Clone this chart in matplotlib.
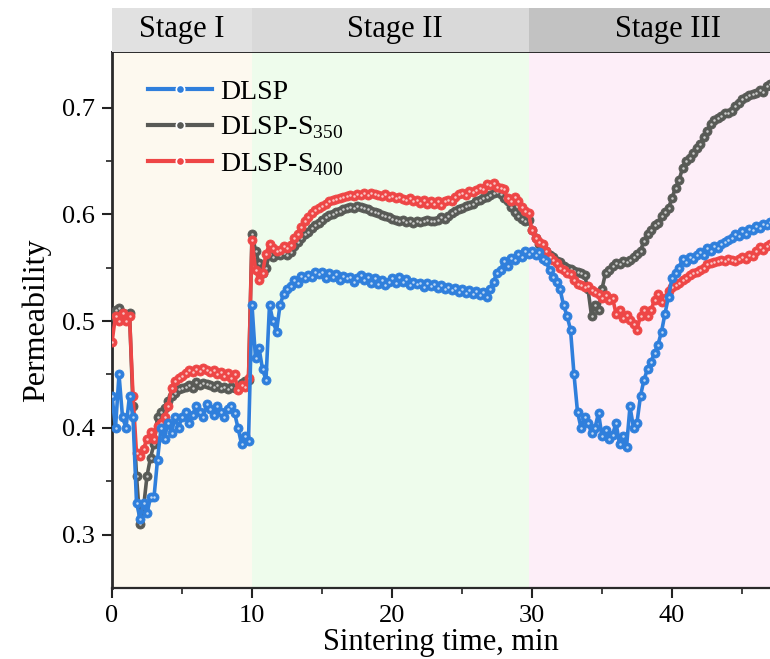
import numpy as np
import matplotlib
matplotlib.use("Agg")
import matplotlib.pyplot as plt
from matplotlib.lines import Line2D

plt.rcParams['font.family'] = ['Liberation Serif', 'DejaVu Serif']
plt.rcParams['mathtext.fontset'] = 'custom'
plt.rcParams['mathtext.rm'] = 'Liberation Serif'

# sampling grid (min)
time_min = np.round(np.arange(0, 47.001, 0.25), 2)

dlsp = [
    0.43, 0.40, 0.45, 0.41,
    0.40, 0.43, 0.41, 0.33,
    0.315, 0.33, 0.32, 0.335,
    0.335, 0.37, 0.40, 0.39,
    0.405, 0.395, 0.41, 0.40,
    0.41, 0.415, 0.405, 0.412,
    0.42, 0.415, 0.41, 0.422,
    0.418, 0.412, 0.42, 0.415,
    0.41, 0.418, 0.42, 0.414,
    0.40, 0.385, 0.392, 0.388,
    0.515, 0.465, 0.475, 0.455,
    0.445, 0.515, 0.50, 0.49,
    0.515, 0.525, 0.53, 0.533,
    0.538, 0.536, 0.542, 0.54,
    0.543, 0.541, 0.546, 0.544,
    0.546, 0.54, 0.545, 0.541,
    0.544, 0.538, 0.542, 0.54,
    0.541, 0.537, 0.54, 0.543,
    0.538, 0.541, 0.536, 0.54,
    0.535, 0.538, 0.534, 0.537,
    0.54, 0.536, 0.541, 0.537,
    0.539, 0.534, 0.537, 0.535,
    0.536, 0.532, 0.536, 0.533,
    0.535, 0.531, 0.534, 0.53,
    0.532, 0.529, 0.531, 0.527,
    0.53, 0.526, 0.529, 0.525,
    0.528, 0.524, 0.527, 0.523,
    0.53, 0.537, 0.545, 0.548,
    0.556, 0.552, 0.559, 0.557,
    0.563, 0.56, 0.566, 0.563,
    0.566, 0.562, 0.565, 0.558,
    0.556, 0.548, 0.541, 0.537,
    0.53, 0.515, 0.505, 0.492,
    0.45, 0.415, 0.40, 0.41,
    0.405, 0.395, 0.40, 0.414,
    0.392, 0.398, 0.39, 0.393,
    0.405, 0.385, 0.392, 0.382,
    0.42, 0.40, 0.405, 0.43,
    0.445, 0.455, 0.462, 0.47,
    0.478, 0.49, 0.507, 0.523,
    0.54, 0.545, 0.55, 0.558,
    0.555, 0.56, 0.558, 0.562,
    0.565, 0.562, 0.568, 0.566,
    0.57, 0.568, 0.572, 0.574,
    0.576, 0.578, 0.582, 0.58,
    0.584, 0.582, 0.586, 0.585,
    0.589, 0.587, 0.591, 0.59,
    0.593,
]

dlsp_s350 = [
    0.505, 0.51, 0.512, 0.508,
    0.505, 0.508, 0.42, 0.355,
    0.31, 0.325, 0.355, 0.372,
    0.385, 0.41, 0.415, 0.419,
    0.425, 0.43, 0.433, 0.436,
    0.437, 0.438, 0.44, 0.437,
    0.443, 0.44, 0.442, 0.441,
    0.44, 0.438, 0.44, 0.437,
    0.438, 0.436, 0.438, 0.437,
    0.438, 0.442, 0.444, 0.445,
    0.582, 0.566, 0.554, 0.545,
    0.55, 0.563, 0.56, 0.563,
    0.562, 0.564, 0.562, 0.565,
    0.57, 0.574, 0.578, 0.582,
    0.583, 0.587, 0.59, 0.592,
    0.595, 0.597, 0.599, 0.6,
    0.602, 0.603, 0.605, 0.606,
    0.607, 0.606, 0.608, 0.607,
    0.606, 0.605, 0.603, 0.602,
    0.601, 0.599, 0.598, 0.597,
    0.596, 0.595, 0.594, 0.595,
    0.593, 0.594, 0.592, 0.594,
    0.593, 0.594, 0.595, 0.594,
    0.594, 0.595, 0.597, 0.596,
    0.598, 0.601, 0.603, 0.605,
    0.606, 0.608, 0.609, 0.61,
    0.612, 0.613, 0.615, 0.616,
    0.618, 0.62, 0.621, 0.619,
    0.615, 0.612, 0.607, 0.602,
    0.598, 0.596, 0.594, 0.595,
    0.585, 0.578, 0.572, 0.568,
    0.566, 0.562, 0.56, 0.556,
    0.555, 0.552, 0.55, 0.549,
    0.547, 0.546, 0.545, 0.543,
    0.53, 0.505, 0.515, 0.51,
    0.53, 0.545, 0.548, 0.552,
    0.554, 0.553, 0.556, 0.555,
    0.557, 0.56, 0.563, 0.566,
    0.575, 0.582, 0.585, 0.59,
    0.592, 0.598, 0.602, 0.606,
    0.615, 0.625, 0.632, 0.643,
    0.65, 0.653, 0.657, 0.662,
    0.666, 0.672, 0.678, 0.685,
    0.688, 0.69, 0.692, 0.695,
    0.695, 0.697, 0.701, 0.704,
    0.708, 0.71, 0.712, 0.713,
    0.714, 0.716, 0.715, 0.72,
    0.722,
]

dlsp_s400 = [
    0.48, 0.505, 0.50, 0.508,
    0.50, 0.505, 0.43, 0.376,
    0.374, 0.38, 0.39, 0.396,
    0.39, 0.402, 0.405, 0.41,
    0.42, 0.437, 0.444, 0.447,
    0.449, 0.451, 0.454, 0.452,
    0.455, 0.453, 0.456, 0.454,
    0.452, 0.454, 0.45, 0.452,
    0.449, 0.451, 0.447, 0.45,
    0.435, 0.44, 0.438, 0.447,
    0.576, 0.548, 0.538, 0.545,
    0.563, 0.572, 0.568, 0.566,
    0.567, 0.57, 0.568, 0.571,
    0.578, 0.582, 0.588, 0.594,
    0.597, 0.601, 0.604, 0.606,
    0.608, 0.61, 0.612, 0.613,
    0.614, 0.615, 0.616, 0.617,
    0.618, 0.617, 0.619, 0.618,
    0.62, 0.618, 0.62, 0.619,
    0.618, 0.617, 0.619, 0.616,
    0.617, 0.615, 0.616, 0.614,
    0.613, 0.615, 0.612, 0.613,
    0.611, 0.613, 0.61, 0.612,
    0.61, 0.612, 0.609, 0.612,
    0.613, 0.612, 0.616, 0.619,
    0.62, 0.618, 0.622, 0.621,
    0.623, 0.625, 0.624, 0.628,
    0.627, 0.629, 0.626, 0.625,
    0.624, 0.615, 0.612, 0.616,
    0.612, 0.607, 0.603, 0.601,
    0.585, 0.578, 0.574, 0.572,
    0.566, 0.56, 0.557, 0.554,
    0.55, 0.548, 0.545, 0.544,
    0.538, 0.535, 0.534, 0.532,
    0.533, 0.529, 0.527, 0.525,
    0.522, 0.524, 0.52, 0.522,
    0.507, 0.51, 0.503, 0.506,
    0.501, 0.497, 0.492, 0.505,
    0.51, 0.505, 0.51, 0.52,
    0.525, 0.518, 0.522, 0.528,
    0.532, 0.534, 0.536, 0.538,
    0.54, 0.543, 0.545, 0.546,
    0.548, 0.55, 0.553, 0.554,
    0.555, 0.556, 0.557, 0.556,
    0.558, 0.557, 0.556, 0.558,
    0.56, 0.558, 0.562, 0.561,
    0.566, 0.569, 0.567, 0.57,
    0.572,
]

stage_labels = ["Stage I", "Stage II", "Stage III"]
stage_bounds = [0, 10, 29.8, 47]
stage_text_x = [5, 20.2, 39.7]
stage_bg = ["#fdf9ef", "#eefcec", "#fdeef8"]
stage_head = ["#e1e1e1", "#d9d9d9", "#c2c2c2"]

series = [
    ("DLSP-S$_\\mathrm{350}$", dlsp_s350, "#585a56"),
    ("DLSP-S$_\\mathrm{400}$", dlsp_s400, "#ee4646"),
    ("DLSP", dlsp, "#2f7fdc"),
]

W, H = 770, 659
fig = plt.figure(figsize=(W / 100, H / 100), dpi=100)
ax = fig.add_axes([112 / W, 1 - 588 / H, 1 - 112 / W, (588 - 52) / H])
hax = fig.add_axes([112 / W, 1 - 52 / H, 1 - 112 / W, 44 / H], sharex=ax)

for i in range(3):
    ax.axvspan(stage_bounds[i], stage_bounds[i + 1], color=stage_bg[i], lw=0, zorder=0)
    hax.axvspan(stage_bounds[i], stage_bounds[i + 1], color=stage_head[i], lw=0)
    hax.text(stage_text_x[i], 0.5, stage_labels[i], ha="center", va="center",
             fontsize=22, transform=hax.get_xaxis_transform())

for label, vals, col in series:
    ax.plot(time_min, vals, color=col, lw=2.6, marker="o", ms=6.5,
            mfc=col, mec=col, mew=0.6, zorder=3)
    ax.plot(time_min, vals, ls="none", marker="o", ms=1.8, mfc="white",
            mec="none", alpha=0.7, zorder=3)

handles = []
for label, vals, col in [series[2], series[0], series[1]]:
    handles.append(Line2D([], [], color=col, lw=3, marker="o", ms=6, mfc=col,
                          mec="white", mew=1.2, label=label))
ax.legend(handles=handles, loc="upper left", bbox_to_anchor=(0.025, 0.985),
          frameon=False, fontsize=20, handlelength=2.3, labelspacing=0.35,
          handletextpad=0.3, borderaxespad=0.3)

ax.set_xlim(0, 47)
ax.set_ylim(0.25, 0.752)
ax.set_xticks([0, 10, 20, 30, 40])
ax.set_xticks([5, 15, 25, 35, 45], minor=True)
ax.set_yticks([0.3, 0.4, 0.5, 0.6, 0.7])
ax.set_yticks([0.35, 0.45, 0.55, 0.65], minor=True)
ax.set_yticklabels(["0.3", "0.4", "0.5", "0.6", "0.7"])
ax.tick_params(axis="both", which="major", direction="out", length=7, width=1.5,
               labelsize=19, colors="#222222", labelcolor="black")
ax.tick_params(axis="both", which="minor", direction="out", length=4, width=1.2,
               colors="#222222")
ax.tick_params(axis="x", pad=5)
ax.tick_params(axis="y", pad=5)
ax.spines["right"].set_visible(False)
ax.spines["left"].set_linewidth(2)
ax.spines["bottom"].set_linewidth(1.6)
ax.spines["top"].set_linewidth(1.4)
for s in ["left", "bottom", "top"]:
    ax.spines[s].set_color("#2a2a2a")

ax.set_xlabel("Sintering time, min", fontsize=22, labelpad=1)
ax.set_ylabel("Permeability", fontsize=23, labelpad=8)

hax.set_ylim(0, 1)
hax.axis("off")

fig.savefig("out.png", dpi=100)
